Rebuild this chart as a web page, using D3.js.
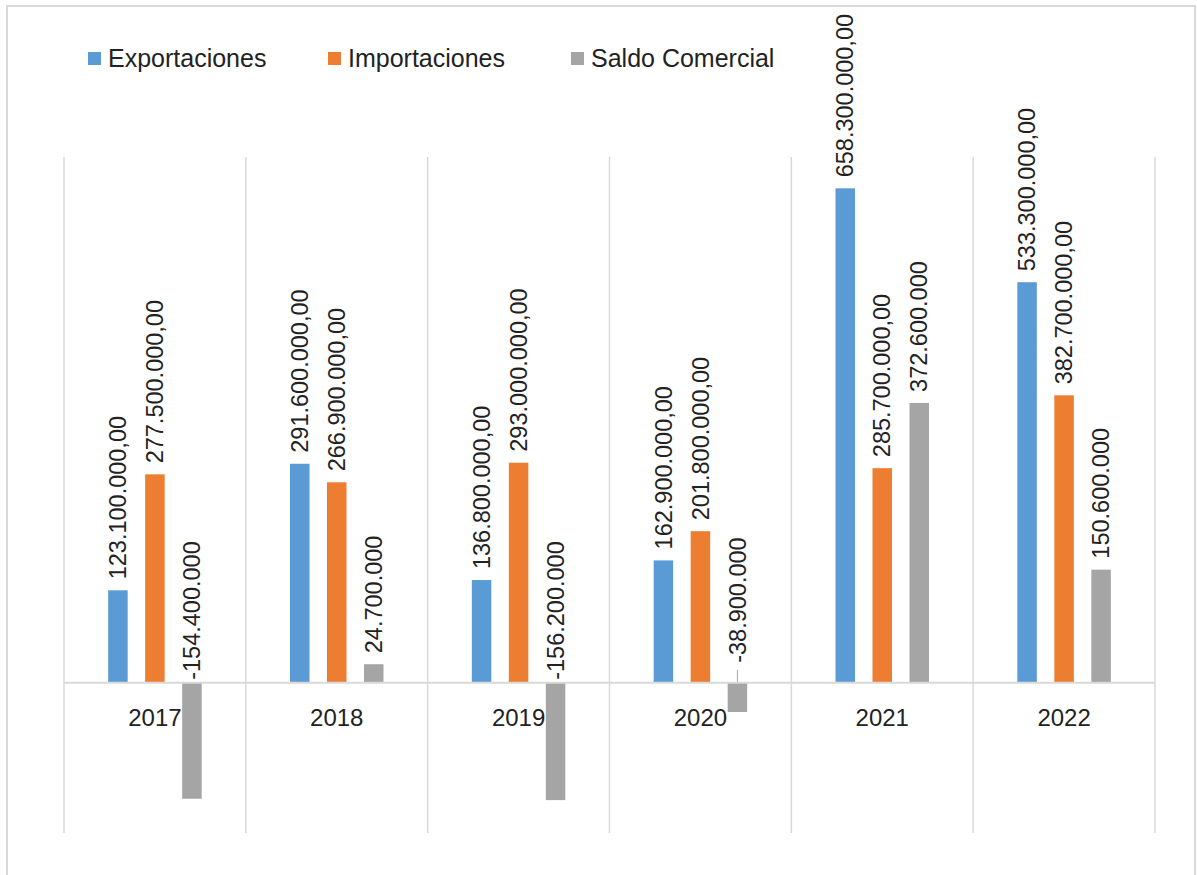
<!DOCTYPE html>
<html>
<head>
<meta charset="utf-8">
<script src="https://cdn.jsdelivr.net/npm/d3@7"></script>
<style>
  html, body { margin: 0; padding: 0; background: #fff; }
  svg { display: block; }
  text { font-family: "Liberation Sans", Arial, sans-serif; fill: #222; }
</style>
</head>
<body>
<svg id="chart" width="1197" height="875"></svg>
<script>
// ---- Data ----
const years = ["2017", "2018", "2019", "2020", "2021", "2022"];
const exportaciones = [123100000, 291600000, 136800000, 162900000, 658300000, 533300000];
const importaciones = [277500000, 266900000, 293000000, 201800000, 285700000, 382700000];
const saldoComercial = [-154400000, 24700000, -156200000, -38900000, 372600000, 150600000];
const seriesNames = ["Exportaciones", "Importaciones", "Saldo Comercial"];
const seriesColors = ["#5B9BD5", "#ED7D31", "#A5A5A5"];
const yDomain = [-200000000, 700000000];

// ---- Setup ----
const svg = d3.select("#chart");

const locale = d3.formatLocale({ decimal: ",", thousands: ".", grouping: [3], currency: ["", ""], minus: "-" });
const fmtDec = locale.format(",.2f");
const fmtInt = locale.format(",.0f");
const formats = [fmtDec, fmtDec, fmtInt];

const seriesValues = [exportaciones, importaciones, saldoComercial];
const data = years.map((y, i) => ({
  year: y,
  values: seriesNames.map((s, k) => ({ key: s, k, value: seriesValues[k][i] }))
}));

// outer border
svg.append("rect")
  .attr("x", 7).attr("y", 6)
  .attr("width", 1188).attr("height", 900)
  .attr("fill", "#fff").attr("stroke", "#d9d9d9").attr("stroke-width", 2);

const plot = { left: 64, right: 1155, top: 157, bottom: 833 };

const x0 = d3.scaleBand().domain(years).range([plot.left, plot.right]).paddingInner(0).paddingOuter(0);
const bw = x0.bandwidth();
const x1 = d3.scaleBand().domain(seriesNames)
  .range([bw / 2 - 46.75, bw / 2 + 46.75])
  .paddingInner(0.473).paddingOuter(0);
const y = d3.scaleLinear().domain(yDomain).range([plot.bottom, plot.top]);

// vertical category gridlines
const boundaries = years.map(d => x0(d)).concat([x0(years[years.length - 1]) + bw]);
svg.append("g").selectAll("line").data(boundaries).join("line")
  .attr("x1", d => d).attr("x2", d => d)
  .attr("y1", plot.top).attr("y2", plot.bottom)
  .attr("stroke", "#d9d9d9").attr("stroke-width", 1.5);

// bars
const groups = svg.append("g").selectAll("g").data(data).join("g")
  .attr("transform", d => `translate(${x0(d.year)},0)`);

groups.selectAll("rect").data(d => d.values).join("rect")
  .attr("x", d => x1(d.key))
  .attr("width", x1.bandwidth())
  .attr("y", d => y(Math.max(0, d.value)))
  .attr("height", d => Math.abs(y(d.value) - y(0)))
  .attr("fill", d => seriesColors[d.k]);

// zero axis line
svg.append("line")
  .attr("x1", plot.left).attr("x2", plot.right)
  .attr("y1", y(0)).attr("y2", y(0))
  .attr("stroke", "#d9d9d9").attr("stroke-width", 2);

// category labels
svg.append("g").selectAll("text").data(years).join("text")
  .attr("x", d => x0(d) + bw / 2)
  .attr("y", 726)
  .attr("text-anchor", "middle")
  .attr("font-size", 24)
  .text(d => d);

// data labels
groups.each(function(d) {
  const g = d3.select(this);
  d.values.forEach(v => {
    const cx = x1(v.key) + x1.bandwidth() / 2;
    let anchorY;
    if (v.value >= 0) {
      anchorY = y(v.value) - 11;
    } else {
      const barLen = y(v.value) - y(0);
      if (barLen < 40) {
        anchorY = y(0) - 20;
        g.append("line")
          .attr("x1", cx).attr("x2", cx)
          .attr("y1", y(0) - 13).attr("y2", y(0))
          .attr("stroke", "#a6a6a6").attr("stroke-width", 1);
      } else {
        anchorY = y(0) - 3;
      }
    }
    g.append("text")
      .attr("transform", `translate(${cx},${anchorY}) rotate(-90)`)
      .attr("dy", "0.35em")
      .attr("font-size", 23.5)
      .text(formats[v.k](v.value));
  });
});

// legend
const legendX = [88, 328, 571];
const legend = svg.append("g").selectAll("g").data(seriesNames).join("g")
  .attr("transform", (d, i) => `translate(${legendX[i]},52)`);
legend.append("rect").attr("width", 13).attr("height", 13)
  .attr("fill", (d, i) => seriesColors[i]);
legend.append("text").attr("x", 20).attr("y", 15)
  .attr("font-size", 25).text(d => d);
</script>
</body>
</html>
